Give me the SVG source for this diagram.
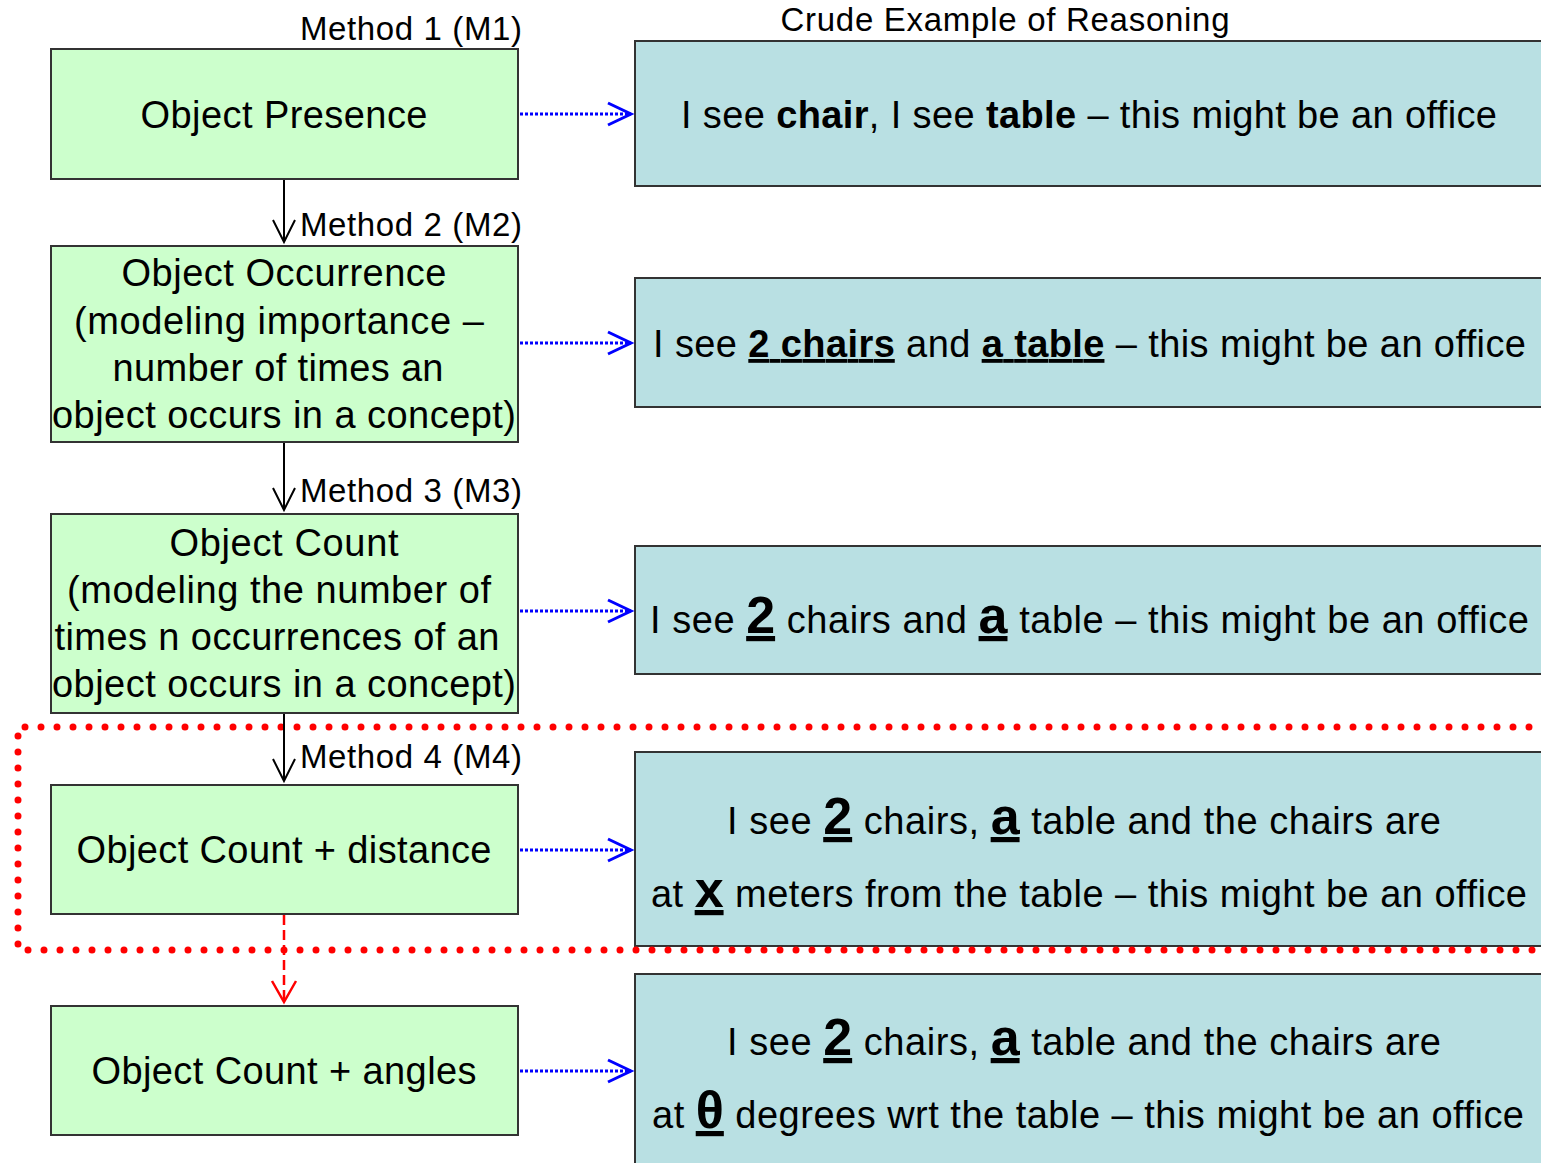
<svg xmlns="http://www.w3.org/2000/svg" width="1541" height="1163" viewBox="0 0 1541 1163">
  <style>
    text { font-family: "Liberation Sans", Arial, sans-serif; fill: #000; }
    .lbl { font-size: 33px; }
    .node { font-size: 38px; text-anchor: middle; }
    .ex { font-size: 38px; text-anchor: middle; }
    .b { font-weight: bold; }
    .u { text-decoration: underline; }
    .big { font-size: 52px; font-weight: bold; text-decoration: underline; }
    .method { fill: #ccffcc; stroke: #333; stroke-width: 2; }
    .example { fill: #b9e0e3; stroke: #333; stroke-width: 2; }
    .flow { stroke: #000; stroke-width: 2; fill: none; marker-end: url(#ah-black); }
    .ref { stroke: #0000ff; stroke-width: 3; stroke-dasharray: 3 2; fill: none; marker-end: url(#ah-blue); }
    .next { stroke: #ff0000; stroke-width: 2.5; stroke-dasharray: 10 5; fill: none; marker-end: url(#ah-red); }
  </style>
  <defs>
    <marker id="ah-black" markerUnits="userSpaceOnUse" orient="auto" refX="0" refY="0" markerWidth="1" markerHeight="1" overflow="visible">
      <path d="M-22,-11 L0,0 L-22,11" fill="none" stroke="#000" stroke-width="2"/>
    </marker>
    <marker id="ah-blue" markerUnits="userSpaceOnUse" orient="auto" refX="0" refY="0" markerWidth="1" markerHeight="1" overflow="visible">
      <path d="M-23,-11 L0,0 L-23,11" fill="none" stroke="#0000ff" stroke-width="3"/>
    </marker>
    <marker id="ah-red" markerUnits="userSpaceOnUse" orient="auto" refX="0" refY="0" markerWidth="1" markerHeight="1" overflow="visible">
      <path d="M-21,-12 L0,0 L-21,12" fill="none" stroke="#ff0000" stroke-width="2.5"/>
    </marker>
  </defs>

  <rect width="1541" height="1163" fill="#fff"/>

  <!-- column heading -->
  <text class="lbl" x="1005" y="31" text-anchor="middle" textLength="449">Crude Example of Reasoning</text>

  <!-- method labels -->
  <g id="method-labels">
    <text class="lbl" x="300" y="40" textLength="222">Method 1 (M1)</text>
    <text class="lbl" x="300" y="236" textLength="222">Method 2 (M2)</text>
    <text class="lbl" x="300" y="502" textLength="222">Method 3 (M3)</text>
    <text class="lbl" x="300" y="768" textLength="222">Method 4 (M4)</text>
  </g>

  <!-- method boxes -->
  <g id="m1">
    <rect class="method" x="51" y="49" width="467" height="130"/>
    <text class="node" x="284" y="128" textLength="287">Object Presence</text>
  </g>
  <g id="m2">
    <rect class="method" x="51" y="246" width="467" height="196"/>
    <text class="node" x="284" y="286" textLength="325">Object Occurrence</text>
    <text class="node" x="279" y="334" textLength="410">(modeling importance –</text>
    <text class="node" x="278" y="381" textLength="331">number of times an</text>
    <text class="node" x="284" y="428" textLength="464">object occurs in a concept)</text>
  </g>
  <g id="m3">
    <rect class="method" x="51" y="514" width="467" height="199"/>
    <text class="node" x="284" y="556" textLength="229">Object Count</text>
    <text class="node" x="279" y="603" textLength="424">(modeling the number of</text>
    <text class="node" x="277" y="650" textLength="445">times n occurrences of an</text>
    <text class="node" x="284" y="697" textLength="464">object occurs in a concept)</text>
  </g>
  <g id="m4">
    <rect class="method" x="51" y="785" width="467" height="129"/>
    <text class="node" x="284" y="863" textLength="415">Object Count + distance</text>
  </g>
  <g id="m5">
    <rect class="method" x="51" y="1006" width="467" height="129"/>
    <text class="node" x="284" y="1084" textLength="385">Object Count + angles</text>
  </g>

  <!-- example boxes -->
  <g id="e1">
    <rect class="example" x="635" y="41" width="930" height="145"/>
    <text class="ex" x="1089" y="128" textLength="816">I see <tspan class="b">chair</tspan>, I see <tspan class="b">table</tspan> – this might be an office</text>
  </g>
  <g id="e2">
    <rect class="example" x="635" y="278" width="930" height="129"/>
    <text class="ex" x="1089.5" y="357" textLength="873">I see <tspan class="b u">2 chairs</tspan> and <tspan class="b u">a table</tspan> – this might be an office</text>
  </g>
  <g id="e3">
    <rect class="example" x="635" y="546" width="930" height="128"/>
    <text class="ex" x="1089.5" y="633" textLength="879">I see <tspan class="big">2</tspan> chairs and <tspan class="big">a</tspan> table – this might be an office</text>
  </g>
  <g id="e4">
    <rect class="example" x="635" y="752" width="930" height="194"/>
    <text class="ex" x="1084" y="834" textLength="714">I see <tspan class="big">2</tspan> chairs, <tspan class="big">a</tspan> table and the chairs are</text>
    <text class="ex" x="1089" y="907" textLength="876">at <tspan class="big">x</tspan> meters from the table – this might be an office</text>
  </g>
  <g id="e5">
    <rect class="example" x="635" y="974" width="930" height="220"/>
    <text class="ex" x="1084" y="1055" textLength="714">I see <tspan class="big">2</tspan> chairs, <tspan class="big">a</tspan> table and the chairs are</text>
    <text class="ex" x="1088" y="1128" textLength="872">at <tspan class="big">θ</tspan> degrees wrt the table – this might be an office</text>
  </g>

  <!-- highlighted region around method 4 -->
  <path id="focus" d="M1545,727 H18 V950 H1545" fill="none" stroke="#ff0000" stroke-width="7" stroke-linecap="round" stroke-dasharray="0 16"/>

  <!-- connectors -->
  <g id="connectors">
    <path class="flow" d="M284,180 V242"/>
    <path class="flow" d="M284,443 V510"/>
    <path class="flow" d="M284,714 V781"/>
    <path class="next" d="M284,915 V1002"/>
    <path class="ref" d="M520,114 H631"/>
    <path class="ref" d="M520,343 H631"/>
    <path class="ref" d="M520,611 H631"/>
    <path class="ref" d="M520,850 H631"/>
    <path class="ref" d="M520,1071 H631"/>
  </g>
</svg>
